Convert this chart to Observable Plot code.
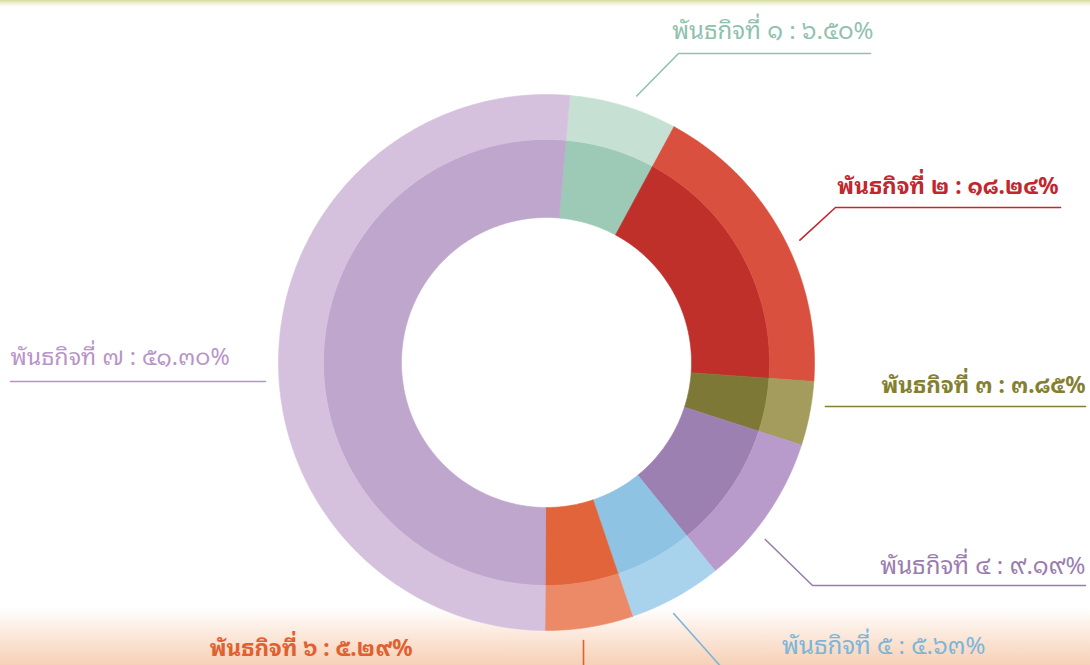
<!DOCTYPE html>
<html>
<head>
<meta charset="utf-8">
<script src="https://cdn.jsdelivr.net/npm/d3@7"></script>
<script src="https://cdn.jsdelivr.net/npm/@observablehq/plot@0.6"></script>
<style>
  html, body { margin: 0; padding: 0; }
  body {
    width: 1090px; height: 665px; overflow: hidden;
    background: linear-gradient(to bottom, #d6dba0 0px, #eef0cf 3px, #ffffff 7px, #ffffff 608px, #fcece1 630px, #f9dcc8 650px, #f6d1b7 665px);
  }
  #chart svg { display: block; background: transparent !important; }
</style>
</head>
<body>
<div id="chart"></div>
<script>
// ---------------- data ----------------
const missionNumbers = [1, 2, 3, 4, 5, 6, 7];
const shares = [6.50, 18.24, 3.85, 9.19, 5.63, 5.29, 51.30];
const innerColors = ["#9dcab7", "#c0302b", "#7e7836", "#9d80b2", "#8fc3e3", "#e1643a", "#bea6cd"];
const outerColors = ["#c6e0d4", "#d9503f", "#a39c5c", "#b99bcb", "#a9d2ec", "#ec8a68", "#d5c1de"];
const labelColors = ["#8fc1ae", "#c1272d", "#847f32", "#9a7dae", "#7ab6da", "#e0602f", "#b994c8"];

// ---------------- layout ----------------
const W = 1090, H = 665;
const CX = 546, CY = 362, R = 268;           // donut centre and outer radius (px)
const rInner = 145 / R, rMid = 223 / R, rOuter = 1;
const startDeg = 5;
const FONT = "'Noto Sans Thai Looped', 'Garuda', 'Loma', 'Sarabun', 'Noto Sans Thai', 'Noto Sans', sans-serif";
// label layout in px: text anchor point, anchor side, weight, size, leader polyline (after arc start point)
const labelLayout = [
  {tx: 873, ty: 31, anchor: "end", weight: "normal", size: 24, fromArc: true, nudge: 2, pts: [[678, 53], [870, 53]]},
  {tx: 1058, ty: 186, anchor: "end", weight: "bold", size: 22.5, fromArc: true, nudge: 3, pts: [[835, 207], [1060, 207]]},
  {tx: 1085, ty: 385, anchor: "end", weight: "bold", size: 22.5, fromArc: false, pts: [[825, 406], [1085, 406]]},
  {tx: 1085, ty: 566, anchor: "end", weight: "normal", size: 24, fromArc: true, nudge: 4.5, pts: [[812, 585], [1085, 585]]},
  {tx: 985, ty: 646, anchor: "end", weight: "normal", size: 24, fromArc: true, nudge: 2, pts: [[722, 668]]},
  {tx: 412, ty: 648, anchor: "end", weight: "bold", size: 22.5, fromArc: false, pts: [[583, 640], [583, 668]]},
  {tx: 10, ty: 357, anchor: "start", weight: "normal", size: 23.2, fromArc: false, pts: [[10, 381], [265, 381]]}
];

const thaiDigits = "๐๑๒๓๔๕๖๗๘๙";
const toThai = s => String(s).replace(/[0-9]/g, d => thaiDigits[+d]);
const labelText = i => `พันธกิจที่ ${toThai(missionNumbers[i])} : ${toThai(shares[i].toFixed(2))}%`;

const X = px => (px - CX) / R;
const Y = py => (CY - py) / R;

// ---------------- geometry from values ----------------
const rad = d => d * Math.PI / 180;
const arcs = d3.pie().sort(null).value(d => d)
  .startAngle(rad(startDeg)).endAngle(rad(startDeg) + 2 * Math.PI)(shares);

const polys = [];
arcs.forEach((a, i) => {
  [[rInner, rMid, innerColors[i]], [rMid, rOuter, outerColors[i]]].forEach(([r0, r1, col], j) => {
    const key = `${i}-${j}`;
    const n = Math.max(2, Math.ceil((a.endAngle - a.startAngle) / rad(0.5)));
    const pts = [];
    for (let k = 0; k <= n; k++) {
      const t = a.startAngle + (a.endAngle - a.startAngle) * k / n;
      pts.push([r1 * Math.sin(t), r1 * Math.cos(t)]);
    }
    for (let k = n; k >= 0; k--) {
      const t = a.startAngle + (a.endAngle - a.startAngle) * k / n;
      pts.push([r0 * Math.sin(t), r0 * Math.cos(t)]);
    }
    pts.push(pts[0]);
    pts.forEach(([x, y]) => polys.push({key, x, y, color: col}));
  });
});

const leaders = [];
arcs.forEach((a, i) => {
  const L = labelLayout[i];
  const key = "L" + i;
  if (L.fromArc) {
    const m = (a.startAngle + a.endAngle) / 2 + rad(L.nudge || 0), r = 1.05;
    leaders.push({key, x: r * Math.sin(m), y: r * Math.cos(m), color: labelColors[i]});
  }
  L.pts.forEach(([px, py]) => leaders.push({key, x: X(px), y: Y(py), color: labelColors[i]}));
});

const labels = shares.map((v, i) => ({
  i, x: X(labelLayout[i].tx), y: Y(labelLayout[i].ty), text: labelText(i), color: labelColors[i]
}));

const textMarks = labels.map((d, i) => Plot.text([d], {
  x: "x", y: "y", text: "text", fill: labelColors[i],
  textAnchor: labelLayout[i].anchor, fontWeight: labelLayout[i].weight,
  fontSize: labelLayout[i].size, lineAnchor: "middle", fontFamily: FONT
}));

const chart = Plot.plot({
  width: W, height: H,
  marginTop: 0, marginRight: 0, marginBottom: 0, marginLeft: 0,
  x: {domain: [X(0), X(W)], axis: null},
  y: {domain: [Y(H), Y(0)], axis: null},
  color: {type: "identity"},
  style: {background: "transparent", overflow: "hidden"},
  marks: [
    Plot.line(polys, {x: "x", y: "y", z: "key", fill: "color", stroke: "color", strokeWidth: 0.6, curve: "linear"}),
    Plot.line(leaders, {x: "x", y: "y", z: "key", stroke: "color", strokeWidth: 1.6, curve: "linear"}),
    ...textMarks
  ]
});
document.getElementById("chart").appendChild(chart);
</script>
</body>
</html>
